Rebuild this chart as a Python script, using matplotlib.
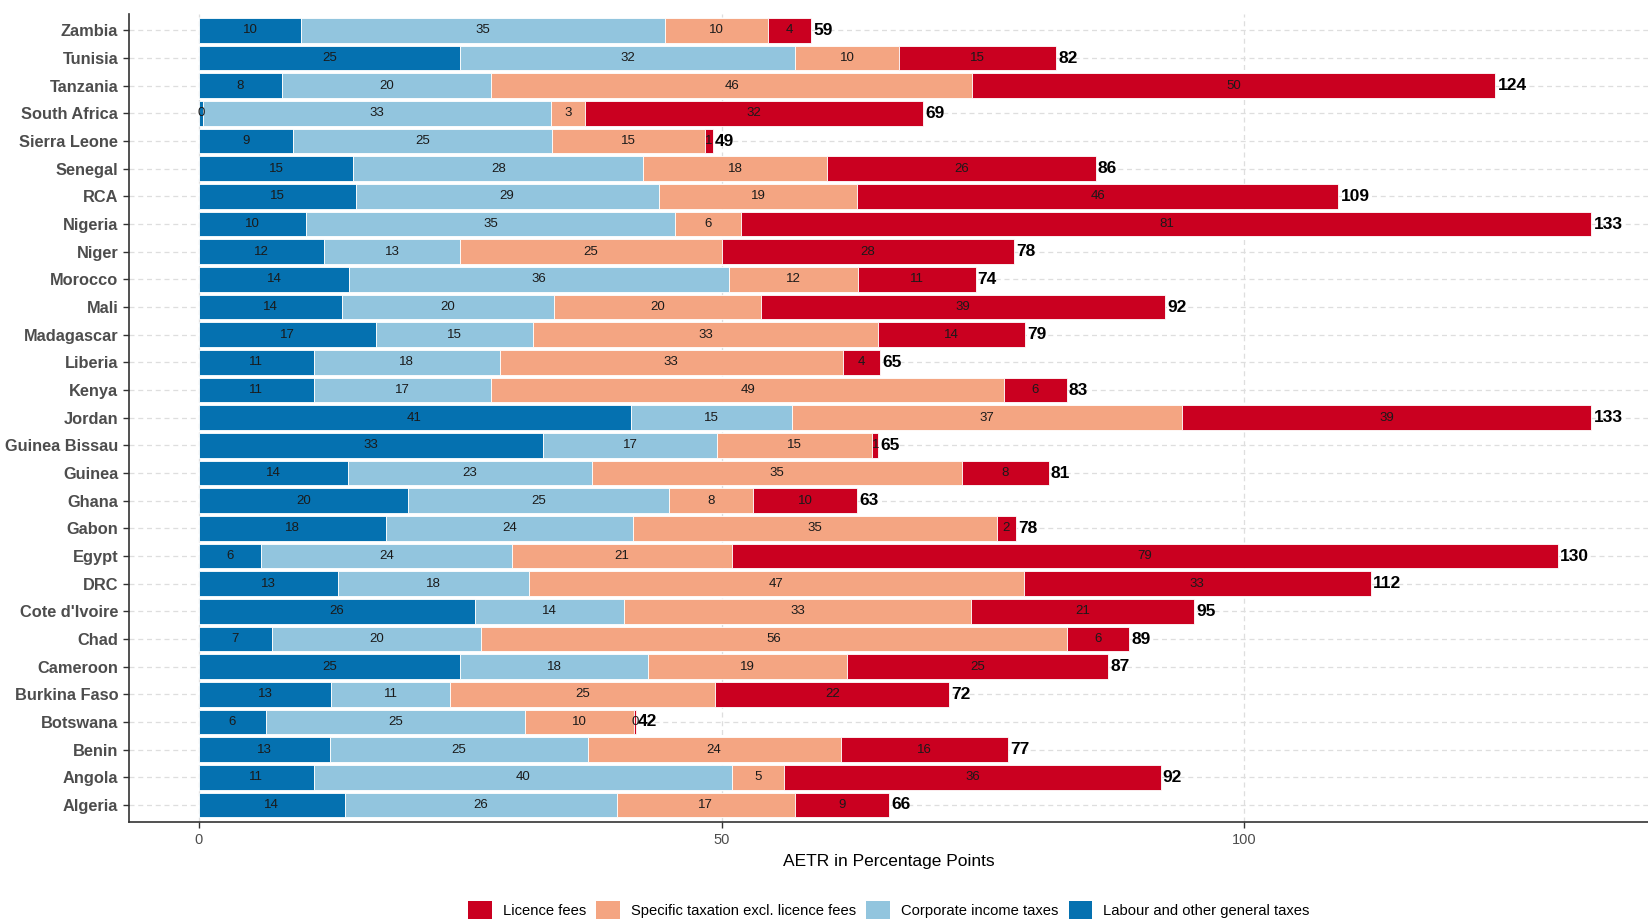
import numpy as np
import matplotlib
matplotlib.use('Agg')
import matplotlib.pyplot as plt
from matplotlib.patches import Patch

plt.rcParams['font.family'] = ['Liberation Sans', 'DejaVu Sans']

# countries listed top to bottom as in the chart
countries = ['Zambia', 'Tunisia', 'Tanzania', 'South Africa', 'Sierra Leone', 'Senegal', 'RCA',
             'Nigeria', 'Niger', 'Morocco', 'Mali', 'Madagascar', 'Liberia', 'Kenya', 'Jordan',
             'Guinea Bissau', 'Guinea', 'Ghana', 'Gabon', 'Egypt', 'DRC', "Cote d'Ivoire", 'Chad',
             'Cameroon', 'Burkina Faso', 'Botswana', 'Benin', 'Angola', 'Algeria']

labour    = [9.8, 25, 8, 0.4, 9.0, 14.8, 15, 10.3, 12, 14.4, 13.7, 17, 11.0, 11, 41.3,
             32.9, 14.3, 20, 17.9, 6, 13.3, 26.4, 7, 25, 12.7, 6.4, 12.6, 11, 14]
corporate = [34.8, 32, 20, 33.3, 24.8, 27.7, 29, 35.3, 13, 36.3, 20.3, 15, 17.8, 17, 15.4,
             16.7, 23.3, 25, 23.6, 24, 18.3, 14.3, 20, 18, 11.3, 24.8, 24.6, 40, 26]
specific  = [9.8, 10, 46, 3.2, 14.6, 17.6, 19, 6.3, 25, 12.4, 19.8, 33, 32.8, 49, 37.3,
             14.8, 35.4, 8, 34.8, 21, 47.3, 33.2, 56, 19, 25.4, 10.4, 24.2, 5, 17]
licence   = [4.2, 15, 50, 32.4, 0.8, 25.7, 46, 81.3, 28, 11.2, 38.6, 14, 3.6, 6, 39.2,
             0.6, 8.3, 10, 1.9, 79, 33.2, 21.3, 6, 25, 22.4, 0.2, 16.0, 36, 9]

series = [('Labour and other general taxes', labour, '#0571B0'),
          ('Corporate income taxes', corporate, '#92C5DE'),
          ('Specific taxation excl. licence fees', specific, '#F4A582'),
          ('Licence fees', licence, '#CA0020')]

n = len(countries)
y = np.arange(n)[::-1]

fig = plt.figure(figsize=(16.49, 9.19), dpi=100)
ax = fig.add_axes([0.078, 0.106, 0.922, 0.879])

left = np.zeros(n)
for name, vals, col in series:
    vals = np.array(vals, dtype=float)
    ax.barh(y, vals, left=left, height=0.9, color=col, edgecolor='white', linewidth=0.6, zorder=2)
    for yi, l, v in zip(y, left, vals):
        ax.text(l + v / 2, yi, f'{round(v):d}', ha='center', va='center',
                fontsize=9.5, color='#1a1a1a', zorder=3)
    left = left + vals

for yi, tot in zip(y, left):
    ax.text(tot + 0.2, yi, f'{round(tot):d}', ha='left', va='center',
            fontsize=12.5, fontweight='bold', color='black', zorder=3)

ax.set_xlim(-6.7, 138.7)
ax.set_ylim(-0.6, n - 0.4)
ax.set_yticks(y)
ax.set_yticklabels(countries, fontsize=11.8, fontweight='bold', color='#4D4D4D')
ax.set_xticks([0, 50, 100])
ax.set_xticklabels(['0', '50', '100'], fontsize=10.5, color='#4D4D4D')
ax.tick_params(axis='both', length=4, width=1, color='#333333')
ax.tick_params(axis='x', pad=4)
ax.set_xlabel('AETR in Percentage Points', fontsize=12.5, color='black', labelpad=5)

for s in ['top', 'right']:
    ax.spines[s].set_visible(False)
for s in ['left', 'bottom']:
    ax.spines[s].set_color('#333333')
    ax.spines[s].set_linewidth(1.2)

ax.grid(True, axis='both', color='#DEDEDE', linestyle=(0, (4, 3)), linewidth=0.9)
ax.set_axisbelow(True)

handles = [Patch(facecolor=c, edgecolor='none', label=nm) for nm, _, c in series[::-1]]
fig.legend(handles=handles, loc='lower center', bbox_to_anchor=(0.539, -0.015), ncol=4,
           frameon=False, fontsize=10.6, handlelength=1.6, handleheight=1.6,
           handletextpad=0.75, columnspacing=0.7)

plt.savefig('out.png', dpi=100)
